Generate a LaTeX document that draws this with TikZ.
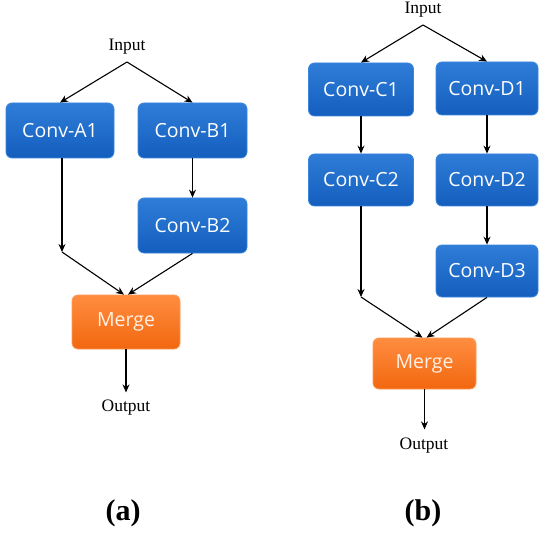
\documentclass[tikz,border=0pt]{standalone}
\usepackage{fontspec}
\setmainfont{Liberation Serif}
\newfontfamily\boxfont{Open Sans}
\usetikzlibrary{arrows.meta}
\definecolor{bluetop}{HTML}{2F7DD8}
\definecolor{bluebot}{HTML}{145EBE}
\definecolor{blueedge}{HTML}{3A86DC}
\definecolor{orgtop}{HTML}{FF8D40}
\definecolor{orgbot}{HTML}{F2670F}
\definecolor{orgedge}{HTML}{FF9A55}
\begin{document}
\begin{tikzpicture}[x=1pt,y=-1pt,
  convbox/.style={rounded corners=6pt, draw=blueedge, line width=0.8pt,
    top color=bluetop, bottom color=bluebot, text=white,
    font=\boxfont\fontsize{19.5}{22}\selectfont, inner sep=0pt},
  mergebox/.style={rounded corners=6pt, draw=orgedge, line width=0.8pt,
    top color=orgtop, bottom color=orgbot, text=white!90!orange,
    font=\boxfont\fontsize{19.5}{22}\selectfont, inner sep=0pt},
  lbl/.style={font=\fontsize{17.5}{20}\selectfont, inner sep=0pt},
  sublbl/.style={font=\bfseries\fontsize{30}{34}\selectfont, inner sep=0pt},
  conn/.style={line width=1.1pt, -{Stealth[length=8pt,width=7pt]}}]
\useasboundingbox (0,0) rectangle (550,535);
% ---------- (a) ----------
\node[lbl] (inA) at (127,47) {Input};
\coordinate (inAs) at (127,62);
\node[convbox, minimum width=108pt, minimum height=55pt] (A1) at (60,130.5) {Conv-A1};
\node[convbox, minimum width=109pt, minimum height=55pt] (B1) at (192.5,130.5) {Conv-B1};
\node[convbox, minimum width=109pt, minimum height=55pt] (B2) at (192.5,225.5) {Conv-B2};
\node[mergebox, minimum width=108pt, minimum height=54pt] (MA) at (126,322) {Merge};
\node[lbl] (outA) at (126,408) {Output};
\coordinate (jA) at (62,252);
\draw[conn] (inAs) -- (A1.north);
\draw[conn] (inAs) -- (B1.north);
\draw[conn] (B1) -- (B2);
\draw[conn] (A1.south -| jA) -- (jA);
\draw[conn] (jA) -- ([xshift=-2pt]MA.north);
\draw[conn] (B2.south) -- ([xshift=2pt]MA.north);
\draw[conn] (MA.south) -- ++(0,43);
% ---------- (b) ----------
\node[lbl] (inB) at (423,10) {Input};
\coordinate (inBs) at (423,25);
\node[convbox, minimum width=105pt, minimum height=53pt] (C1) at (361,89.5) {Conv-C1};
\node[convbox, minimum width=102pt, minimum height=53pt] (D1) at (487,88.5) {Conv-D1};
\node[convbox, minimum width=105pt, minimum height=52pt] (C2) at (361,180) {Conv-C2};
\node[convbox, minimum width=102pt, minimum height=52pt] (D2) at (487,180) {Conv-D2};
\node[convbox, minimum width=102pt, minimum height=52pt] (D3) at (487,271) {Conv-D3};
\node[mergebox, minimum width=103pt, minimum height=51pt] (MB) at (424.5,363.5) {Merge};
\node[lbl] (outB) at (424,446) {Output};
\coordinate (jB) at (361,297);
\draw[conn] (inBs) -- (C1.north);
\draw[conn] (inBs) -- (D1.north);
\draw[conn] (C1) -- (C2);
\draw[conn] (D1) -- (D2);
\draw[conn] (D2) -- (D3);
\draw[conn] (C2.south) -- (jB);
\draw[conn] (jB) -- ([xshift=-2pt]MB.north);
\draw[conn] (D3.south) -- ([xshift=2pt]MB.north);
\draw[conn] (MB.south) -- ++(0,40);
% ---------- labels ----------
\node[sublbl] (la) at (123,513) {(a)};
\node[sublbl] (lb) at (423,513) {(b)};
\end{tikzpicture}
\end{document}
